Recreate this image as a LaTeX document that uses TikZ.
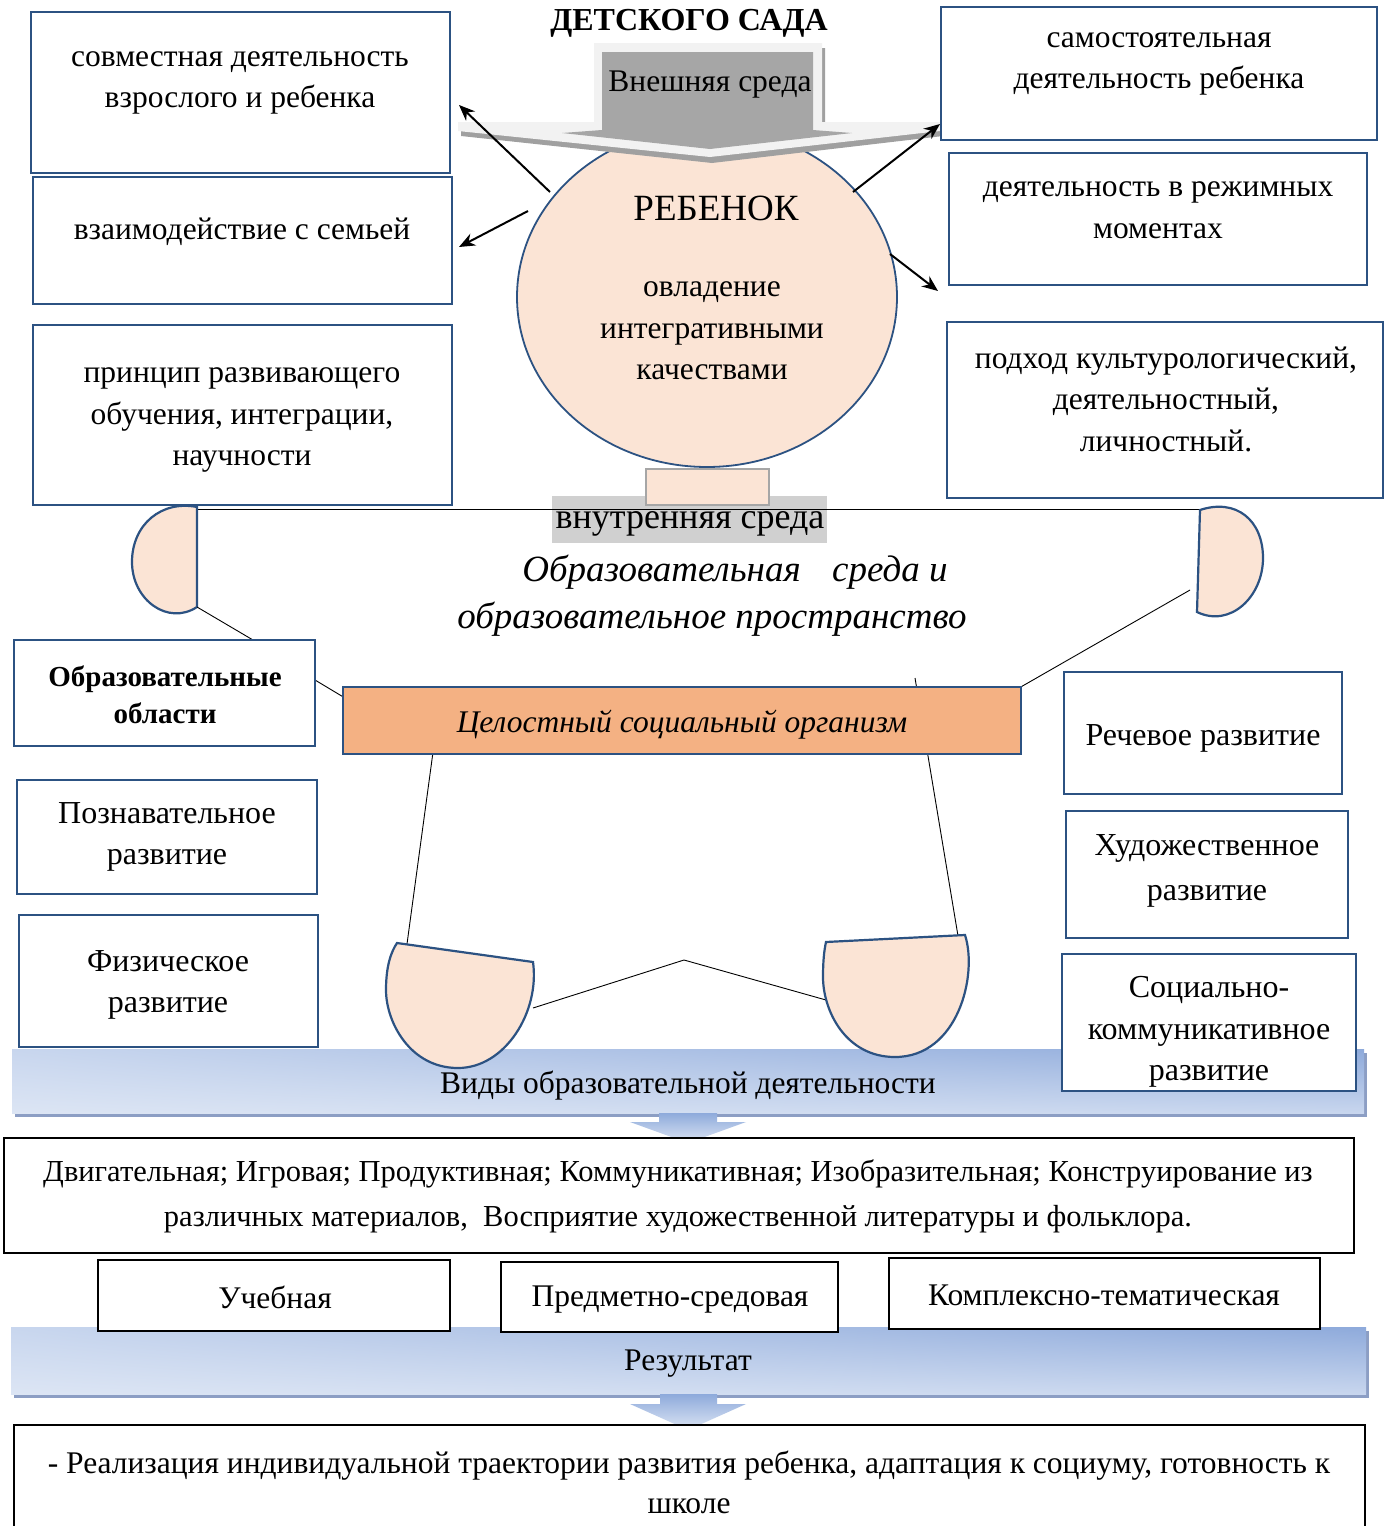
\documentclass[tikz,border=0pt]{standalone}
\usepackage{fontspec}
\setmainfont{Liberation Serif}
\usetikzlibrary{arrows.meta,shapes.geometric,shadings}
\definecolor{boxblue}{RGB}{44,82,130}
\definecolor{peach}{RGB}{251,228,213}
\definecolor{orangebar}{RGB}{244,177,131}
\definecolor{bannerL}{RGB}{220,229,244}
\definecolor{bannerM}{RGB}{200,214,238}
\definecolor{bannerR}{RGB}{142,170,219}
\definecolor{bannerS}{RGB}{140,158,196}
\definecolor{grayarrow}{RGB}{166,166,166}
\definecolor{lightarrow}{RGB}{242,242,242}
\definecolor{shadowgray}{RGB}{160,160,160}
\definecolor{innergray}{RGB}{208,208,208}
\newcommand\mkbox[6]{\node[#1,minimum width={#4-#2},minimum height={#5-#3}] (#6) at ({(#2+#4)/2},{(#3+#5)/2}) {};}
\begin{document}
\begin{tikzpicture}[x=1pt,y=-1pt,
 box/.style={draw=boxblue,line width=2.2pt,fill=white,inner sep=0,outer sep=0},
 kbox/.style={draw=black,line width=2.2pt,fill=white,inner sep=0,outer sep=0},
 txt/.style={font=\fontsize{31.5}{41.5}\selectfont,align=center,inner sep=0,yshift=-3pt},
 txtb/.style={font=\fontsize{32}{41.5}\selectfont,align=center,inner sep=0,yshift=-3pt},
 conn/.style={line width=0.9pt,black},
 arr/.style={line width=2pt,-{Stealth[length=16pt,width=13pt]}},
 bowl/.style={fill=peach,draw=boxblue,line width=2.2pt},
 banner/.style={upper left=bannerM,upper right=bannerR,lower left=bannerL,lower right=bannerM}]
\useasboundingbox (0,0) rectangle (1389,1526);
\fill[white] (0,0) rectangle (1389,1526);

% central circle
\node[ellipse,draw=boxblue,fill=peach,line width=1.8pt,minimum width=380pt,minimum height=340pt,inner sep=0] (child) at (707,297) {};

% outer environment block arrow
\fill[shadowgray] (597,48)--(825,48)--(825,127)--(943,127)--(943,136)--(712,163)--(461,136)--(461,127)--(597,127)--cycle;
\fill[lightarrow] (594,43)--(822,43)--(822,122)--(940,122)--(940,131)--(710,157)--(458,131)--(458,122)--(594,122)--cycle;
\fill[grayarrow] (602,52)--(813,52)--(813,130)--(852,133)--(710,149)--(562,133)--(602,130)--cycle;
\node[txt] (outer) at (710,82) {Внешняя среда};
\node[font=\fontsize{32}{36}\selectfont\bfseries,inner sep=0,yshift=-3pt] (title) at (689,20) {ДЕТСКОГО САДА};

% circle text
\node[font=\fontsize{37}{44}\selectfont,inner sep=0,yshift=-2pt] (childname) at (716,206) {РЕБЕНОК};
\node[txt] (childq) at (712,328) {овладение\\интегративными\\качествами};

% pedestal and inner environment
\fill[innergray] (552,496) rectangle (827,543);
\mkbox{draw=grayarrow,fill=peach,line width=1.6pt,inner sep=0}{646}{469}{769}{505}{ped}
\node[font=\fontsize{36}{40}\selectfont,inner sep=0,yshift=-3pt] (inner) at (690,521) {внутренняя среда};

% top bowls
\coordinate (lbt) at (197,509);
\coordinate (rbt) at (1200,509);
\draw[conn] (lbt) -- (rbt);
\draw[bowl] (197,507) -- (197,607) .. controls (168,626) and (132,600) .. (132,562) .. controls (132,524) and (162,500) .. (197,507) -- cycle;
\draw[bowl] (1200,510) -- (1197,612) .. controls (1230,628) and (1263,597) .. (1263,558) .. controls (1263,520) and (1236,498) .. (1200,510) -- cycle;

\node[font=\fontsize{37}{40}\selectfont\itshape,inner sep=0,yshift=-3pt] (env1) at (735,569) {Образовательная\hspace{0.6em} среда и};
\node[font=\fontsize{37}{40}\selectfont\itshape,inner sep=0,yshift=-3pt] (env2) at (712,616) {образовательное пространство};

% left/right top boxes
\mkbox{box}{31}{12}{450}{173}{b1}
\mkbox{box}{33}{177}{452}{304}{b2}
\mkbox{box}{33}{325}{452}{505}{b3}
\mkbox{box}{941}{7}{1377}{140}{b4}
\mkbox{box}{949}{153}{1367}{285}{b5}
\mkbox{box}{947}{322}{1383}{498}{b6}
\node[txt] (t1) at (240,80) {совместная деятельность\\взрослого и ребенка};
\node[txt] (t2) at (242,229) {взаимодействие с семьей};
\node[txt] (t3) at (242,417) {принцип развивающего\\обучения, интеграции,\\научности};
\node[txt] (t4) at (1159,61) {самостоятельная\\деятельность ребенка};
\node[txt] (t5) at (1158,207) {деятельность в режимных\\моментах};
\node[txt] (t6) at (1166,396) {подход культурологический,\\деятельностный,\\личностный.};

% arrows from the child
\coordinate (a1s) at (550,192); \coordinate (a1e) at (459,105);
\coordinate (a2s) at (528,211); \coordinate (a2e) at (459,247);
\coordinate (a3s) at (853,192); \coordinate (a3e) at (940,124);
\coordinate (a4s) at (890,254); \coordinate (a4e) at (938,291);
\draw[arr] (a1s) -- (a1e);
\draw[arr] (a2s) -- (a2e);
\draw[arr] (a3s) -- (a3e);
\draw[arr] (a4s) -- (a4e);

% connectors around the bar
\coordinate (l1a) at (197,607); \coordinate (l1b) at (253,640);
\coordinate (l2a) at (315,680); \coordinate (l2b) at (345,698);
\coordinate (l3a) at (1190,590); \coordinate (l3b) at (1019,688);
\coordinate (l4a) at (915,678); \coordinate (l4b) at (958,936);
\coordinate (l5a) at (436,730); \coordinate (l5b) at (407,944);
\draw[conn] (l1a) -- (l1b);
\draw[conn] (l2a) -- (l2b);
\draw[conn] (l3a) -- (l3b);
\draw[conn] (l4a) -- (l4b);
\draw[conn] (l5a) -- (l5b);

\mkbox{draw=boxblue,fill=orangebar,line width=2.4pt,inner sep=0}{343}{687}{1021}{754}{bar}
\node[font=\fontsize{31.5}{34}\selectfont\itshape,inner sep=0,yshift=-3pt] (bartext) at (682,722) {Целостный социальный организм};

% middle boxes
\mkbox{box}{14}{640}{315}{746}{b7}
\mkbox{box}{17}{780}{317}{894}{b8}
\mkbox{box}{19}{915}{318}{1047}{b9}
\mkbox{box}{1064}{672}{1342}{794}{b10}
\mkbox{box}{1066}{811}{1348}{938}{b11}
\node[font=\fontsize{29}{37}\selectfont\bfseries,align=center,inner sep=0,yshift=-3pt] (t7) at (165,692) {Образовательные\\области};
\node[txtb] (t8) at (167,834) {Познавательное\\развитие};
\node[txtb] (t9) at (168,982) {Физическое\\развитие};
\node[txtb] (t10) at (1203,735) {Речевое развитие};
\node[txtb,font=\fontsize{32}{45}\selectfont] (t11) at (1207,868) {Художественное\\развитие};

% banner 1
\fill[bannerS] (15,1053) rectangle (1367,1117);
\shade[banner] (12,1049) rectangle (1364,1113);
\node[txt] (banner1) at (688,1083) {Виды образовательной деятельности};

% bottom bowls
\coordinate (m1) at (533,1008); \coordinate (m2) at (684,960); \coordinate (m3) at (826,1000);
\draw[conn] (m1) -- (m2) -- (m3);
\draw[bowl] (397,943) -- (533,962) .. controls (540,1012) and (505,1068) .. (458,1068) .. controls (410,1068) and (386,1022) .. (386,990) .. controls (386,966) and (391,952) .. (397,943) -- cycle;
\draw[bowl] (826,942) -- (965,935) .. controls (978,975) and (958,1057) .. (895,1057) .. controls (845,1057) and (823,1010) .. (823,977) .. controls (823,962) and (824,951) .. (826,942) -- cycle;

\mkbox{box}{1062}{954}{1356}{1091}{b12}
\node[txtb] (t12) at (1209,1029) {Социально-\\коммуникативное\\развитие};

% arrow 1 down
\shade[top color=bannerR,bottom color=bannerL] (659,1113)--(717,1113)--(717,1122)--(746,1122)--(688,1143)--(630,1122)--(659,1122)--cycle;
\mkbox{kbox}{4}{1138}{1354}{1253}{b13}
\node[font=\fontsize{30.5}{45}\selectfont,align=center,inner sep=0,yshift=-3pt] (t13) at (678,1193) {Двигательная; Игровая; Продуктивная; Коммуникативная; Изобразительная; Конструирование из\\различных материалов,\ \ Восприятие художественной литературы и фольклора.};

% banner 2
\fill[bannerS] (14,1331) rectangle (1369,1398);
\shade[banner] (11,1327) rectangle (1366,1394);
\node[txt] (banner2) at (688,1361) {Результат};

\mkbox{kbox}{98}{1260}{450}{1331}{b14}
\mkbox{kbox}{501}{1262}{838}{1332}{b15}
\mkbox{kbox}{889}{1258}{1320}{1329}{b16}
\node[txt] (t14) at (275,1294) {Учебная};
\node[txt] (t15) at (670,1297) {Предметно-средовая};
\node[txt] (t16) at (1104,1292) {Комплексно-тематическая};

% arrow 2 down
\shade[top color=bannerR,bottom color=bannerL] (660,1394)--(717,1394)--(717,1404)--(746,1404)--(688,1430)--(630,1404)--(660,1404)--cycle;
\mkbox{kbox}{14}{1425}{1365}{1545}{b17}
\node[font=\fontsize{31.5}{40}\selectfont,align=center,inner sep=0,yshift=-3pt] (t17) at (689,1479) {- Реализация индивидуальной траектории развития ребенка, адаптация к социуму, готовность к\\школе};
\end{tikzpicture}
\end{document}
